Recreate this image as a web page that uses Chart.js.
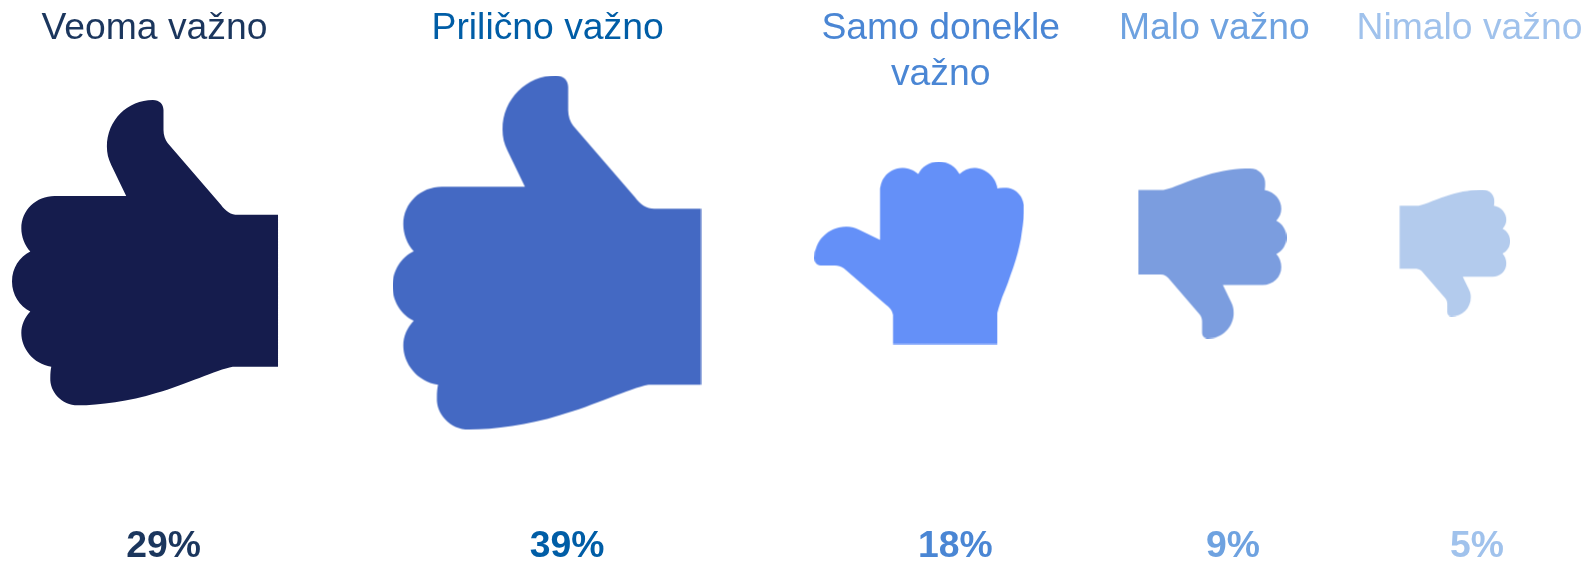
<!DOCTYPE html>
<html lang="hr">
<head>
    <meta charset="UTF-8">
    <title>Koliko je važno</title>
    <script src="https://cdn.jsdelivr.net/npm/chart.js@4/dist/chart.umd.min.js"></script>
    <style>
        html, body { margin: 0; padding: 0; background: #fff; }
        canvas { display: block; }
    </style>
</head>
<body>
    <canvas id="hands" width="1587" height="561"></canvas>

    <script>
        const categories = ["Veoma važno", "Prilično važno", ["Samo donekle", "važno"], "Malo važno", "Nimalo važno"];
        const shares = [29, 39, 18, 9, 5];

        // layout, in px of the 1587 wide axis
        const handCentres = [145.5, 547, 919.3, 1212, 1454.7];
        const labelCentres = [154.4, 547.6, 940.7, 1214.4, 1469.5];
        const shareCentres = [163.5, 567, 955.3, 1233, 1477];

        const handColours = ["#151c4d", "#4469c3", "#6490f8", "#7b9ddf", "#b3cbed"];
        const textColours = ["#1b365d", "#005da6", "#4a86d4", "#6ea2e0", "#a0c2ec"];
        const handRotation = [0, 0, -90, 180, 180];
        const handMirrored = [false, false, true, false, false];

        const FONT = "'Liberation Sans', Arial, sans-serif";
        const WIDTH_PER_ROOT = 49.4; // box width of an icon = this * sqrt(share)

        // thumb up, traced from the first icon, box is 37..836 x 45..962
        const HAND = new Path2D("M836 390 L836 846 L700 846 C650 855 560 900 470 925 C390 950 300 962 235 962 " +
            "C185 962 150 920 152 880 C152 865 153 855 155 846 C100 838 65 790 65 745 C65 720 75 698 92 680 " +
            "C60 665 37 630 37 590 C37 550 60 515 92 500 C75 482 65 455 65 430 C65 375 110 333 165 333 " +
            "L380 333 L335 240 C326 222 322 205 322 185 C322 105 385 45 460 45 C480 45 492 58 492 75 " +
            "L492 135 C492 150 497 165 505 175 L665 360 C678 378 695 390 715 390 Z");

        function handIcon(i) {
            const sideways = Math.abs(handRotation[i]) === 90;
            const scale = WIDTH_PER_ROOT * Math.sqrt(shares[i]) / (sideways ? 917 : 799);
            const icon = document.createElement("canvas");
            icon.width = Math.ceil(799 * scale);
            icon.height = Math.ceil(917 * scale);
            const ctx = icon.getContext("2d");
            if (handMirrored[i]) {
                ctx.translate(icon.width, 0);
                ctx.scale(-1, 1);
            }
            ctx.scale(scale, scale);
            ctx.translate(-37, -45);
            ctx.fillStyle = handColours[i];
            ctx.fill(HAND);
            return icon;
        }

        function placedAxis(position, centres, texts, font, padding, height) {
            return {
                type: "linear",
                position: position,
                min: 0,
                max: 1587,
                grid: { display: false, drawTicks: false },
                border: { display: false },
                afterBuildTicks: axis => {
                    axis.ticks = centres.map(value => ({ value: value }));
                },
                // labels stay inside the page, so no side margins and a fixed band
                afterFit: axis => {
                    axis.paddingLeft = 0;
                    axis.paddingRight = 0;
                    axis.height = height;
                },
                ticks: {
                    autoSkip: false,
                    maxRotation: 0,
                    minRotation: 0,
                    padding: padding,
                    crossAlign: position === "top" ? "far" : "near",
                    font: font,
                    color: ctx => textColours[ctx.index],
                    callback: (value, index) => texts[index]
                }
            };
        }

        new Chart(document.getElementById("hands").getContext("2d"), {
            type: "scatter",
            data: {
                datasets: [{
                    label: "Udio",
                    data: shares.map((share, i) => ({ x: handCentres[i], y: 0, share: share })),
                    clip: false,
                    pointStyle: shares.map((share, i) => handIcon(i)),
                    pointRotation: handRotation,
                    pointRadius: 10
                }]
            },
            options: {
                responsive: false,
                animation: false,
                events: [],
                layout: { padding: 0, autoPadding: false },
                plugins: { legend: { display: false }, tooltip: { enabled: false } },
                scales: {
                    x: {
                        type: "linear",
                        display: false,
                        min: 0,
                        max: 1587
                    },
                    y: {
                        type: "linear",
                        display: false,
                        min: -1,
                        max: 1
                    },
                    labelAxis: placedAxis("top", labelCentres, categories,
                        { family: FONT, size: 37.3, lineHeight: 1.23 }, 2, 100),
                    shareAxis: placedAxis("bottom", shareCentres, shares.map(share => share + "%"),
                        { family: FONT, size: 37.3, weight: "bold", lineHeight: 1.25 }, 117, 155)
                }
            }
        });
    </script>
</body>
</html>
